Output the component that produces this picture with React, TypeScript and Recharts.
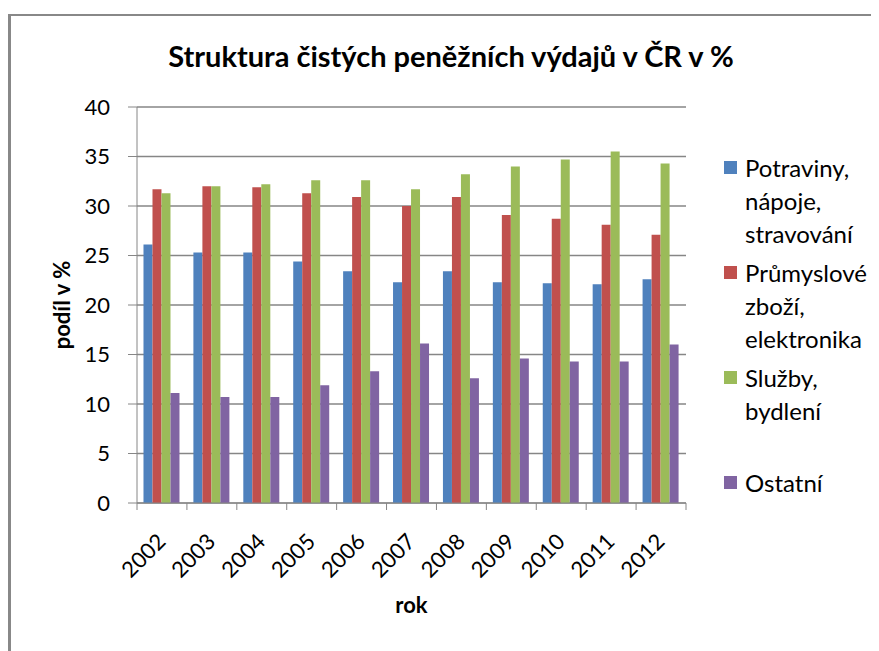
import { BarChart, Bar, XAxis, YAxis, CartesianGrid, Label } from "recharts";

const years = ["2002", "2003", "2004", "2005", "2006", "2007", "2008", "2009", "2010", "2011", "2012"];
const potraviny = [26.1, 25.3, 25.3, 24.4, 23.4, 22.3, 23.4, 22.3, 22.2, 22.1, 22.6];
const prumyslove = [31.7, 32.0, 31.9, 31.3, 30.9, 30.0, 30.9, 29.1, 28.7, 28.1, 27.1];
const sluzby = [31.3, 32.0, 32.2, 32.6, 32.6, 31.7, 33.2, 34.0, 34.7, 35.5, 34.3];
const ostatni = [11.1, 10.7, 10.7, 11.9, 13.3, 16.1, 12.6, 14.6, 14.3, 14.3, 16.0];
const yTicks = [0, 5, 10, 15, 20, 25, 30, 35, 40];

const series = [
  { key: "potraviny", name: "Potraviny, nápoje, stravování", color: "#4F81BD" },
  { key: "prumyslove", name: "Průmyslové zboží, elektronika", color: "#C0504D" },
  { key: "sluzby", name: "Služby, bydlení", color: "#9BBB59" },
  { key: "ostatni", name: "Ostatní", color: "#8064A2" },
];

const data = years.map((rok, i) => ({
  rok,
  potraviny: potraviny[i],
  prumyslove: prumyslove[i],
  sluzby: sluzby[i],
  ostatni: ostatni[i],
}));

const FONT = "Lato, 'Open Sans', sans-serif";
const GRID = "#868686";
const W = 871;
const H = 643;
const MARGIN = { top: 99, right: 193, left: 0, bottom: 48 };
const Y_W = 129;
const HALF_BAND = (W - MARGIN.right - Y_W) / years.length / 2;

function YearTick(props: any) {
  const { x, y, payload, index } = props;
  const tx = x + 5;
  const ty = y + 40;
  return (
    <g>
      <line x1={x - HALF_BAND} y1={y} x2={x - HALF_BAND} y2={y + 7} stroke={GRID} />
      {index === years.length - 1 && (
        <line x1={x + HALF_BAND} y1={y} x2={x + HALF_BAND} y2={y + 7} stroke={GRID} />
      )}
      <text
        x={tx}
        y={ty}
        textAnchor="end"
        transform={`rotate(-45, ${tx}, ${ty})`}
        fontFamily={FONT}
        fontSize={22}
        fill="#000"
      >
        {payload.value}
      </text>
    </g>
  );
}

// legend to the right of the plot, like Excel's
function SideLegend() {
  return (
    <div
      style={{
        position: "absolute",
        left: 716,
        top: 143,
        fontFamily: FONT,
        fontSize: 24,
        color: "#000",
      }}
    >
      {series.map((s) => (
        <div key={s.key} style={{ display: "flex", minHeight: 99, marginBottom: 6 }}>
          <div
            style={{
              width: 13,
              height: 13,
              background: s.color,
              marginTop: 10,
              marginRight: 8,
              flexShrink: 0,
            }}
          />
          <div style={{ width: 140, lineHeight: "33px" }}>{s.name}</div>
        </div>
      ))}
    </div>
  );
}

export default function App() {
  return (
    <div style={{ position: "relative", width: W, height: H }}>
      <div
        style={{
          position: "absolute",
          left: 0,
          top: 6,
          width: W - 3,
          height: H - 8,
          borderLeft: "3px solid #888",
          borderTop: "2px solid #888",
        }}
      />
      <div
        style={{
          position: "absolute",
          left: 0,
          top: 30,
          width: 886,
          textAlign: "center",
          fontFamily: FONT,
          fontSize: 29,
          fontWeight: "bold",
          color: "#000",
        }}
      >
        Struktura čistých peněžních výdajů v ČR v %
      </div>
      <div style={{ position: "absolute", left: 0, top: 0 }}>
        <BarChart
          width={W}
          height={H}
          data={data}
          margin={MARGIN}
          barCategoryGap="13%"
          barGap={0}
        >
          <CartesianGrid vertical={false} stroke={GRID} strokeWidth={1.3} />
          <XAxis
            dataKey="rok"
            height={100}
            interval={0}
            tickLine={false}
            tickSize={0}
            tickMargin={0}
            stroke={GRID}
            tick={<YearTick />}
          >
            <Label
              value="rok"
              position="center"
              dy={52}
              style={{ fontFamily: FONT, fontSize: 22, fontWeight: "bold", fill: "#000" }}
            />
          </XAxis>
          <YAxis
            width={Y_W}
            domain={[0, 40]}
            ticks={yTicks}
            interval={0}
            tickSize={9}
            tickMargin={18}
            stroke={GRID}
            tick={{ fontFamily: FONT, fontSize: 22, fill: "#000" }}
          >
            <Label
              value="podíl v %"
              angle={-90}
              position="center"
              dx={-10}
              style={{ fontFamily: FONT, fontSize: 22, fontWeight: "bold", fill: "#000" }}
            />
          </YAxis>
          {series.map((s) => (
            <Bar key={s.key} dataKey={s.key} name={s.name} fill={s.color} isAnimationActive={false} />
          ))}
        </BarChart>
      </div>
      <SideLegend />
    </div>
  );
}
